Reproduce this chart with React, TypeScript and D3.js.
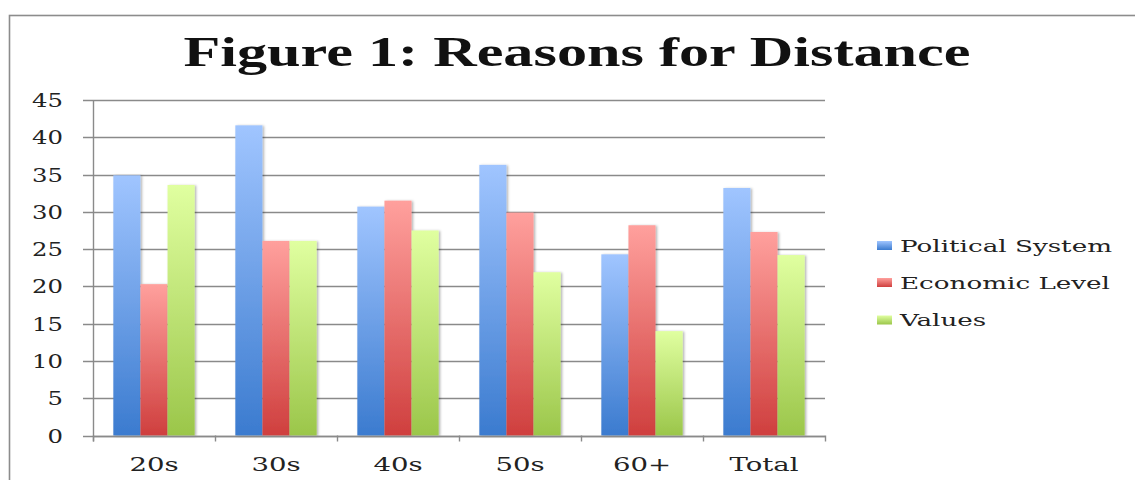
import React, { useEffect, useRef } from "react";
import * as d3 from "d3";

// Chart content
const title = "Figure 1: Reasons for Distance";
const categories = ["20s", "30s", "40s", "50s", "60+", "Total"];
const seriesNames = ["Political System", "Economic Level", "Values"];
const politicalSystem = [34.9, 41.6, 30.7, 36.3, 24.3, 33.2];
const economicLevel = [20.3, 26.1, 31.5, 29.9, 28.2, 27.3];
const valuesSeries = [33.6, 26.1, 27.5, 21.9, 14.0, 24.2];
const yTicks = [0, 5, 10, 15, 20, 25, 30, 35, 40, 45];

// Gradient colours per series: [top, bottom]
const seriesColors: [string, string][] = [
  ["#a0c5ff", "#3b7bcf"],
  ["#ffa09d", "#cf3f3e"],
  ["#e0ffa0", "#9bc64a"],
];

const W = 1135;
const H = 480;

export default function App() {
  const ref = useRef<SVGSVGElement | null>(null);

  useEffect(() => {
    const svg = d3.select(ref.current);
    svg.selectAll("*").remove();

    const plot = { left: 93, right: 825, top: 100, bottom: 435.5 };
    const axisColor = "#8a8a8a";
    const labelFont = "'DejaVu Serif', serif";

    const defs = svg.append("defs");
    seriesColors.forEach((c, i) => {
      const g = defs
        .append("linearGradient")
        .attr("id", `grad${i}`)
        .attr("x1", 0)
        .attr("y1", 0)
        .attr("x2", 0)
        .attr("y2", 1);
      g.append("stop").attr("offset", "0%").attr("stop-color", c[0]);
      g.append("stop").attr("offset", "100%").attr("stop-color", c[1]);
    });
    const shadow = defs
      .append("filter")
      .attr("id", "barShadow")
      .attr("x", "-20%")
      .attr("y", "-5%")
      .attr("width", "150%")
      .attr("height", "115%");
    shadow
      .append("feDropShadow")
      .attr("dx", 1.5)
      .attr("dy", 0.5)
      .attr("stdDeviation", 1.3)
      .attr("flood-color", "#000")
      .attr("flood-opacity", 0.3);

    // Outer frame of the chart area
    svg
      .append("rect")
      .attr("x", 9.5)
      .attr("y", 15.5)
      .attr("width", 1300)
      .attr("height", 600)
      .attr("fill", "#fff")
      .attr("stroke", "#8c8c8c")
      .attr("stroke-width", 1.6);

    // Title
    svg
      .append("text")
      .attr("x", 577)
      .attr("y", 66)
      .attr("text-anchor", "middle")
      .attr("font-family", "'Liberation Serif', serif")
      .attr("font-weight", "bold")
      .attr("font-size", 43)
      .attr("fill", "#111")
      .attr("textLength", 787)
      .attr("lengthAdjust", "spacingAndGlyphs")
      .text(title);

    const x0 = d3
      .scaleBand<string>()
      .domain(categories)
      .range([plot.left, plot.right])
      .paddingInner(0)
      .paddingOuter(0);
    const x1 = d3
      .scaleBand<string>()
      .domain(seriesNames)
      .range([0, x0.bandwidth()])
      .paddingInner(0)
      .paddingOuter(0.75);
    const y = d3.scaleLinear().domain([0, 45]).range([plot.bottom, plot.top]);

    // Gridlines and y ticks
    svg
      .append("g")
      .selectAll("line")
      .data(yTicks)
      .join("line")
      .attr("x1", plot.left - 10)
      .attr("x2", plot.right)
      .attr("y1", (d) => Math.round(y(d)) + 0.5)
      .attr("y2", (d) => Math.round(y(d)) + 0.5)
      .attr("stroke", axisColor)
      .attr("stroke-width", 1.4);

    // Helper: stretch a text node horizontally by a factor
    const stretch = (sel: d3.Selection<SVGTextElement, any, any, any>, k: number) => {
      sel.each(function () {
        const node = this as SVGTextElement;
        const w = node.getComputedTextLength();
        node.setAttribute("textLength", String(w * k));
        node.setAttribute("lengthAdjust", "spacingAndGlyphs");
      });
    };

    const yLabels = svg
      .append("g")
      .selectAll("text")
      .data(yTicks)
      .join("text")
      .attr("x", 63)
      .attr("y", (d) => y(d) + 7)
      .attr("text-anchor", "end")
      .attr("font-family", labelFont)
      .attr("font-size", 19)
      .attr("fill", "#222")
      .text((d) => String(d));
    stretch(yLabels as any, 1.28);

    // Bars
    const seriesData = [politicalSystem, economicLevel, valuesSeries];
    const barsG = svg.append("g");
    seriesNames.forEach((name, si) => {
      barsG
        .append("g")
        .selectAll("rect")
        .data(categories.map((c, ci) => ({ c, v: seriesData[si][ci] })))
        .join("rect")
        .attr("x", (d) => (x0(d.c) as number) + (x1(name) as number))
        .attr("y", (d) => y(d.v))
        .attr("width", x1.bandwidth())
        .attr("height", (d) => plot.bottom - y(d.v))
        .attr("fill", `url(#grad${si})`)
        .attr("filter", "url(#barShadow)");
    });

    // Axes lines
    svg
      .append("line")
      .attr("x1", plot.left + 0.5)
      .attr("x2", plot.left + 0.5)
      .attr("y1", plot.top)
      .attr("y2", plot.bottom + 6)
      .attr("stroke", axisColor)
      .attr("stroke-width", 1.4);
    svg
      .append("line")
      .attr("x1", plot.left)
      .attr("x2", plot.right)
      .attr("y1", Math.round(plot.bottom) + 0.5)
      .attr("y2", Math.round(plot.bottom) + 0.5)
      .attr("stroke", axisColor)
      .attr("stroke-width", 1.4);

    // Category boundary ticks
    const boundaries = categories.map((c) => x0(c) as number).concat([plot.right]);
    svg
      .append("g")
      .selectAll("line")
      .data(boundaries)
      .join("line")
      .attr("x1", (d) => d + 0.5)
      .attr("x2", (d) => d + 0.5)
      .attr("y1", plot.bottom)
      .attr("y2", plot.bottom + 6)
      .attr("stroke", axisColor)
      .attr("stroke-width", 1.4);

    const xLabels = svg
      .append("g")
      .selectAll("text")
      .data(categories)
      .join("text")
      .attr("x", (d) => (x0(d) as number) + x0.bandwidth() / 2)
      .attr("y", 471)
      .attr("text-anchor", "middle")
      .attr("font-family", labelFont)
      .attr("font-size", 19)
      .attr("fill", "#222")
      .text((d) => d);
    stretch(xLabels as any, 1.45);

    // Legend
    const legend = svg.append("g");
    const rowY = [245.5, 282.5, 320];
    seriesNames.forEach((name, i) => {
      legend
        .append("rect")
        .attr("x", 877)
        .attr("y", rowY[i] - 4.5)
        .attr("width", 15)
        .attr("height", 9)
        .attr("fill", `url(#grad${i})`);
    });
    const legendText = legend
      .selectAll("text")
      .data(seriesNames)
      .join("text")
      .attr("x", 900)
      .attr("y", (d, i) => rowY[i] + 6)
      .attr("font-family", labelFont)
      .attr("font-size", 17)
      .attr("fill", "#222")
      .text((d) => d);
    const natural = (legendText.nodes()[0] as SVGTextElement).getComputedTextLength();
    stretch(legendText as any, 212 / natural);
  }, []);

  return (
    <svg
      ref={ref}
      width={W}
      height={H}
      style={{ position: "absolute", left: 0, top: 0, background: "#fff" }}
    />
  );
}
